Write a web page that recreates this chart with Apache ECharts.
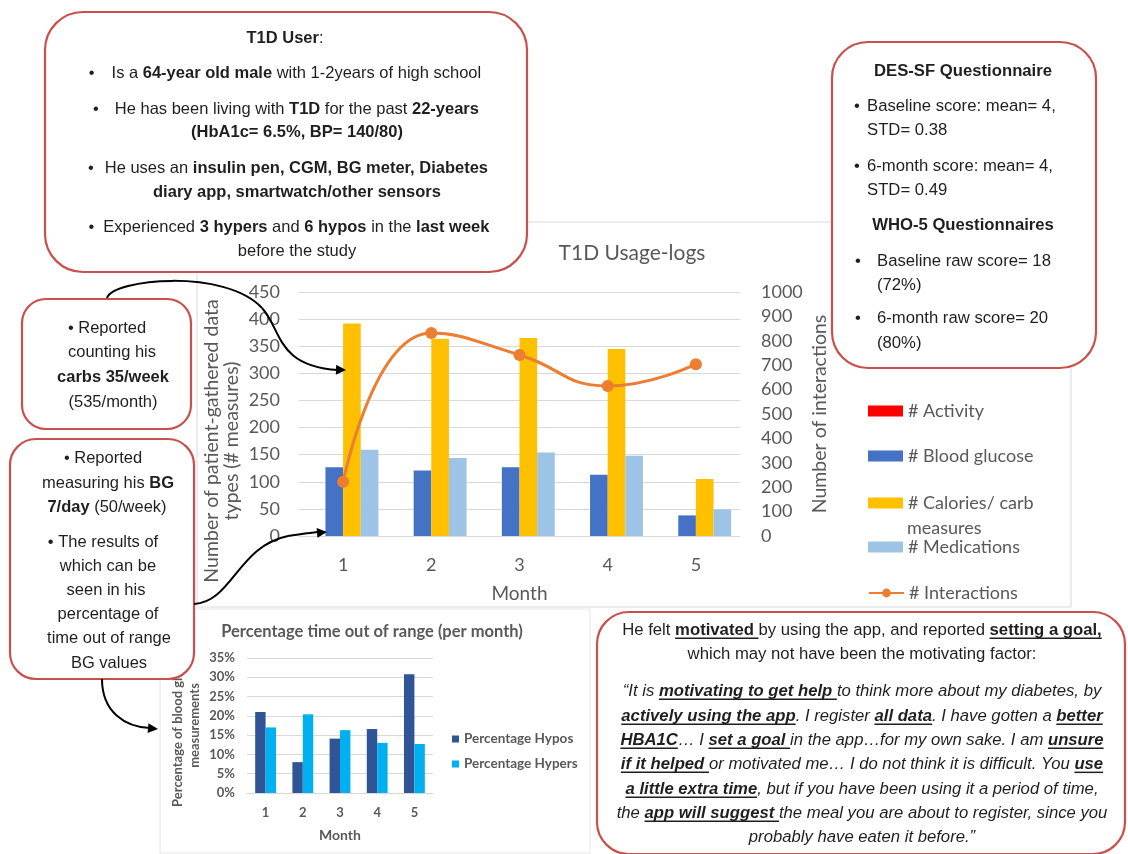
<!DOCTYPE html>
<html>
<head>
<meta charset="utf-8">
<script src="https://cdn.jsdelivr.net/npm/echarts@6/dist/echarts.min.js"></script>
<style>
  html, body { margin: 0; padding: 0; background: #ffffff; }
  #chart { width: 1128px; height: 854px; }
</style>
</head>
<body>
<div id="chart"></div>
<script>
// ---- T1D usage logs per month ----
const months = ['1', '2', '3', '4', '5'];
const activity = [0, 0, 0, 0, 0];
const bloodGlucose = [127, 121, 127, 113, 38];
const carbMeasures = [392, 364, 365, 345, 105];
const medications = [159, 144, 154, 148, 49];
const interactions = [222, 832, 742, 615, 704];

// ---- Percentage of time out of range per month ----
const hypos = [21.0, 8.0, 14.1, 16.6, 30.8];
const hypers = [17.0, 20.4, 16.3, 13.0, 12.7];

// ---- Callout texts: each line is a list of [text, flags] (b = bold, i = italic, u = underline) ----
const userLines = [
  [[['T1D User', 'b'], [':', '']], 285, 38],
  [[['•', ''], ['', '', 17], ['Is a ', ''], ['64-year old male', 'b'], [' with 1-2years of high school', '']], 285, 73],
  [[['•', ''], ['', '', 16], ['He has been living with ', ''], ['T1D', 'b'], [' for the past ', ''], ['22-years', 'b']], 286, 109],
  [[['(HbA1c= 6.5%, BP= 140/80)', 'b']], 297, 132],
  [[['•', ''], ['', '', 11], ['He uses an ', ''], ['insulin pen, CGM, BG meter, Diabetes', 'b']], 288, 168],
  [[['diary app, smartwatch/other sensors', 'b']], 297, 192],
  [[['•', ''], ['', '', 9], ['Experienced ', ''], ['3 hypers', 'b'], [' and ', ''], ['6 hypos', 'b'], [' in the ', ''], ['last week', 'b']], 289, 227],
  [[['before the study', '']], 297, 251]
];

const carbLines = [
  [[['• Reported', '']], 107, 328],
  [[['counting his', '']], 112, 352],
  [[['carbs 35/week', 'b']], 113, 377],
  [[['(535/month)', '']], 113, 402]
];

const bgLines = [
  [[['• Reported', '']], 103, 458],
  [[['measuring his ', ''], ['BG', 'b']], 108, 483],
  [[['7/day', 'b'], [' (50/week)', '']], 107, 507],
  [[['• The results of', '']], 103, 542],
  [[['which can be', '']], 108, 566],
  [[['seen in his', '']], 106, 590],
  [[['percentage of', '']], 108, 614],
  [[['time out of range', '']], 109, 638],
  [[['BG values', '']], 109, 663]
];

// left-aligned lines: [segments, x, y]
const surveyLines = [
  [[['•', '']], 854, 106], [[['Baseline score: mean= 4,', '']], 867, 106],
  [[['STD= 0.38', '']], 867, 130],
  [[['•', '']], 854, 166], [[['6-month score: mean= 4,', '']], 867, 166],
  [[['STD= 0.49', '']], 867, 190],
  [[['•', '']], 855, 261], [[['Baseline raw score= 18', '']], 877, 261],
  [[['(72%)', '']], 877, 285],
  [[['•', '']], 855, 318], [[['6-month raw score= 20', '']], 877, 318],
  [[['(80%)', '']], 877, 343]
];
const surveyHeads = [
  [[['DES-SF Questionnaire', 'b']], 963, 71],
  [[['WHO-5 Questionnaires', 'b']], 963, 225]
];

const quoteLines = [
  [[['He felt ', ''], ['motivated ', 'bu'], ['by using the app, and reported ', ''], ['setting a goal,', 'bu']], 862, 630],
  [[['which may not have been the motivating factor:', '']], 862, 654],
  [[['“It is ', 'i'], ['motivating to get help ', 'biu'], ['to think more about my diabetes, by', 'i']], 862, 691],
  [[['actively using the app', 'biu'], ['. I register ', 'i'], ['all data', 'biu'], ['. I have gotten a ', 'i'], ['better', 'biu']], 862, 716],
  [[['HBA1C', 'biu'], ['… I ', 'i'], ['set a goal ', 'biu'], ['in the app…for my own sake. I am ', 'i'], ['unsure', 'biu']], 862, 740],
  [[['if it helped ', 'biu'], ['or motivated me… I do not think it is difficult. You ', 'i'], ['use', 'biu']], 862, 764],
  [[['a little extra time', 'biu'], [', but if you have been using it a period of time,', 'i']], 862, 789],
  [[['the ', 'i'], ['app will suggest ', 'biu'], ['the meal you are about to register, since you', 'i']], 862, 813],
  [[['probably have eaten it before.”', 'i']], 862, 837]
];

// ---- text layout helpers ----
const BOX_FONT = '"Liberation Sans", Arial, sans-serif';
const CHART_FONT = 'Lato, "Open Sans", sans-serif';
const TEXT_COLOR = '#1f1f1f';
const AXIS_COLOR = '#595959';
const measureCtx = document.createElement('canvas').getContext('2d');

function fontOf(flags, size) {
  return (flags.indexOf('i') >= 0 ? 'italic ' : '') + (flags.indexOf('b') >= 0 ? 'bold ' : '') + size + 'px ' + BOX_FONT;
}
function widthOf(text, flags, size) {
  measureCtx.font = fontOf(flags, size);
  return measureCtx.measureText(text).width;
}
function lineElements(segs, anchorX, y, size, align) {
  const widths = segs.map(s => (s[2] || 0) + (s[0] ? widthOf(s[0], s[1] || '', size) : 0));
  const total = widths.reduce((a, b) => a + b, 0);
  let x = align === 'center' ? anchorX - total / 2 : anchorX;
  const out = [];
  segs.forEach((s, i) => {
    const flags = s[1] || '';
    const txt = s[0];
    if (txt && txt.trim().length) {
      const trimmed = txt.replace(/^\s+/, '');
      const lead = txt.length - trimmed.length;
      const leadW = lead ? widthOf(txt.slice(0, lead), flags, size) : 0;
      out.push({
        type: 'text', z: 30, x: x + leadW, y: y,
        style: { text: trimmed, font: fontOf(flags, size), fill: TEXT_COLOR, align: 'left', verticalAlign: 'middle' }
      });
    }
    if (flags.indexOf('u') >= 0) {
      out.push({
        type: 'line', z: 30,
        shape: { x1: x, y1: y + size * 0.5, x2: x + widths[i], y2: y + size * 0.5 },
        style: { stroke: TEXT_COLOR, lineWidth: 1.5 }
      });
    }
    x += widths[i];
  });
  return out;
}
function block(lines, size, align) {
  let els = [];
  lines.forEach(l => { els = els.concat(lineElements(l[0], l[1], l[2], size, align)); });
  return els;
}
function calloutBox(x, y, w, h, r) {
  return {
    type: 'rect', z: 20,
    shape: { x: x, y: y, width: w, height: h, r: r },
    style: { fill: '#ffffff', stroke: '#C9504C', lineWidth: 2.2 }
  };
}
function arrowHead(tipX, tipY, angleDeg) {
  const a = angleDeg * Math.PI / 180, len = 10, half = 5;
  const bx = tipX - len * Math.cos(a), by = tipY - len * Math.sin(a);
  const px = -Math.sin(a) * half, py = Math.cos(a) * half;
  return {
    type: 'polygon', z: 40,
    shape: { points: [[tipX, tipY], [bx + px, by + py], [bx - px, by - py]] },
    style: { fill: '#000000' }
  };
}
// cubic connector segment: start, control 1, control 2, end
function bez(x1, y1, c1x, c1y, c2x, c2y, x2, y2) {
  return {
    type: 'bezierCurve', z: 40,
    shape: { x1: x1, y1: y1, cpx1: c1x, cpy1: c1y, cpx2: c2x, cpy2: c2y, x2: x2, y2: y2 },
    style: { fill: null, stroke: '#000000', lineWidth: 2 }
  };
}

const graphics = []
  // chart frames
  .concat([
    { type: 'rect', z: 0, silent: true, shape: { x: 197, y: 222, width: 874, height: 385 }, style: { fill: null, stroke: '#D9D9D9', lineWidth: 1 } },
    { type: 'rect', z: 0, silent: true, shape: { x: 160, y: 609, width: 430, height: 244 }, style: { fill: null, stroke: '#E6E6E6', lineWidth: 1 } }
  ])
  // callout boxes
  .concat([
    calloutBox(45, 12, 482, 260, 38),
    calloutBox(832, 42, 264, 326, 36),
    calloutBox(22, 299, 169, 130, 24),
    calloutBox(10, 439, 184, 240, 26),
    calloutBox(597, 612, 528, 242, 32)
  ])
  .concat(block(userLines, 16.5, 'center'))
  .concat(block(carbLines, 16.5, 'center'))
  .concat(block(bgLines, 16.5, 'center'))
  .concat(block(surveyHeads, 16.7, 'center'))
  .concat(block(surveyLines, 16.7, 'left'))
  .concat(block(quoteLines, 16.7, 'center'))
  // second line of the calories legend entry
  .concat([{ type: 'text', z: 5, x: 907, y: 528, style: { text: 'measures', font: '18px ' + CHART_FONT, fill: AXIS_COLOR, align: 'left', verticalAlign: 'middle' } }])
  // connector arrows
  .concat([
    bez(107, 298, 112, 279, 225, 268, 262, 308),
    bez(262, 308, 282, 330, 276, 366, 338, 370),
    arrowHead(346, 370, 2),
    bez(194, 604, 232, 602, 238, 546, 288, 536),
    bez(288, 536, 300, 534, 310, 533, 318, 532),
    arrowHead(327, 532, -5),
    bez(102, 679, 102, 712, 125, 727, 150, 728),
    arrowHead(158, 729, 5)
  ]);

const legendCommon = {
  orient: 'vertical', padding: 0, itemGap: 0, itemWidth: 35, itemHeight: 11,
  selectedMode: false,
  textStyle: { fontSize: 18, color: AXIS_COLOR, fontFamily: CHART_FONT }
};

const chart = echarts.init(document.getElementById('chart'), null, { renderer: 'canvas' });
chart.setOption({
  animation: false,
  backgroundColor: '#ffffff',
  textStyle: { fontFamily: CHART_FONT },
  title: [
    { text: 'T1D Usage-logs', left: 632, top: 253, textAlign: 'center', textVerticalAlign: 'middle', padding: 0,
      textStyle: { fontSize: 21, fontWeight: 'normal', color: AXIS_COLOR, fontFamily: CHART_FONT } },
    { text: 'Percentage time out of range (per month)', left: 372, top: 632, textAlign: 'center', textVerticalAlign: 'middle', padding: 0,
      textStyle: { fontSize: 16.5, fontWeight: 'bold', color: AXIS_COLOR, fontFamily: CHART_FONT } }
  ],
  legend: [
    Object.assign({ data: ['# Activity'], left: 868, top: 402, icon: 'rect' }, legendCommon),
    Object.assign({ data: ['# Blood glucose'], left: 868, top: 447, icon: 'rect' }, legendCommon),
    Object.assign({ data: ['# Calories/ carb measures'], left: 868, top: 494, icon: 'rect',
      formatter: () => '# Calories/ carb' }, legendCommon),
    Object.assign({ data: ['# Medications'], left: 868, top: 538, icon: 'rect' }, legendCommon),
    Object.assign({ data: ['# Interactions'], left: 868, top: 584 }, legendCommon),
    { data: ['Percentage Hypos', 'Percentage Hypers'], left: 452, top: 732, orient: 'vertical', padding: 0,
      itemGap: 11, itemWidth: 7, itemHeight: 7, icon: 'rect', selectedMode: false,
      textStyle: { fontSize: 13.5, fontWeight: 'bold', color: AXIS_COLOR, fontFamily: CHART_FONT } }
  ],
  grid: [
    { left: 299, top: 292, width: 441, height: 244 },
    { left: 247, top: 658, width: 186, height: 135 }
  ],
  xAxis: [
    { type: 'category', gridIndex: 0, data: months,
      axisLine: { lineStyle: { color: '#D9D9D9' } }, axisTick: { show: false },
      axisLabel: { fontSize: 18, color: AXIS_COLOR, margin: 20 },
      name: 'Month', nameLocation: 'middle', nameGap: 48,
      nameTextStyle: { fontSize: 19, color: AXIS_COLOR } },
    { type: 'category', gridIndex: 1, data: months,
      axisLine: { lineStyle: { color: '#D9D9D9' } }, axisTick: { show: false },
      axisLabel: { fontSize: 13, color: AXIS_COLOR, margin: 13, fontWeight: 'bold' },
      name: 'Month', nameLocation: 'middle', nameGap: 35,
      nameTextStyle: { fontSize: 14, color: AXIS_COLOR, fontWeight: 'bold' } }
  ],
  yAxis: [
    { type: 'value', gridIndex: 0, min: 0, max: 450, interval: 50,
      axisLine: { show: false }, axisTick: { show: false },
      axisLabel: { fontSize: 18, color: AXIS_COLOR, margin: 19 },
      splitLine: { lineStyle: { color: '#D9D9D9' } },
      name: 'Number of patient-gathered data\ntypes (# measures)', nameLocation: 'middle', nameRotate: 90, nameGap: 57,
      nameTextStyle: { fontSize: 19.5, color: AXIS_COLOR, lineHeight: 20, padding: [0, 54, 0, 0] } },
    { type: 'value', gridIndex: 0, position: 'right', min: 0, max: 1000, interval: 100,
      axisLine: { show: false }, axisTick: { show: false },
      axisLabel: { fontSize: 18, color: AXIS_COLOR, margin: 21, formatter: v => String(v) },
      splitLine: { show: false },
      name: 'Number of interactions', nameLocation: 'middle', nameRotate: 90, nameGap: 70,
      nameTextStyle: { fontSize: 19.5, color: AXIS_COLOR } },
    { type: 'value', gridIndex: 1, min: 0, max: 35, interval: 5,
      axisLine: { show: false }, axisTick: { show: false },
      axisLabel: { fontSize: 13, color: AXIS_COLOR, margin: 12, formatter: '{value}%', fontWeight: 'bold' },
      splitLine: { lineStyle: { color: '#D9D9D9' } },
      name: 'Percentage of blood glucose\nmeasurements', nameLocation: 'middle', nameRotate: 90, nameGap: 44,
      nameTextStyle: { fontSize: 13, color: AXIS_COLOR, lineHeight: 17, fontWeight: 'bold' } }
  ],
  series: [
    { name: '# Activity', type: 'bar', xAxisIndex: 0, yAxisIndex: 0, data: activity,
      itemStyle: { color: '#FF0000' }, barGap: '0%', barCategoryGap: '20%' },
    { name: '# Blood glucose', type: 'bar', xAxisIndex: 0, yAxisIndex: 0, data: bloodGlucose,
      itemStyle: { color: '#4472C4' }, barGap: '0%', barCategoryGap: '20%' },
    { name: '# Calories/ carb measures', type: 'bar', xAxisIndex: 0, yAxisIndex: 0, data: carbMeasures,
      itemStyle: { color: '#FFC000' }, barGap: '0%', barCategoryGap: '20%' },
    { name: '# Medications', type: 'bar', xAxisIndex: 0, yAxisIndex: 0, data: medications,
      itemStyle: { color: '#9DC3E6' }, barGap: '0%', barCategoryGap: '20%' },
    { name: '# Interactions', type: 'line', xAxisIndex: 0, yAxisIndex: 1, data: interactions,
      smooth: 0.5, symbol: 'circle', symbolSize: 12, z: 5,
      lineStyle: { width: 3, color: '#ED7D31' }, itemStyle: { color: '#ED7D31' } },
    { name: 'Percentage Hypos', type: 'bar', xAxisIndex: 1, yAxisIndex: 2, data: hypos,
      itemStyle: { color: '#2F5597' }, barGap: '0%', barCategoryGap: '44%' },
    { name: 'Percentage Hypers', type: 'bar', xAxisIndex: 1, yAxisIndex: 2, data: hypers,
      itemStyle: { color: '#00B0F0' }, barGap: '0%', barCategoryGap: '44%' }
  ],
  graphic: graphics
});
</script>
</body>
</html>
